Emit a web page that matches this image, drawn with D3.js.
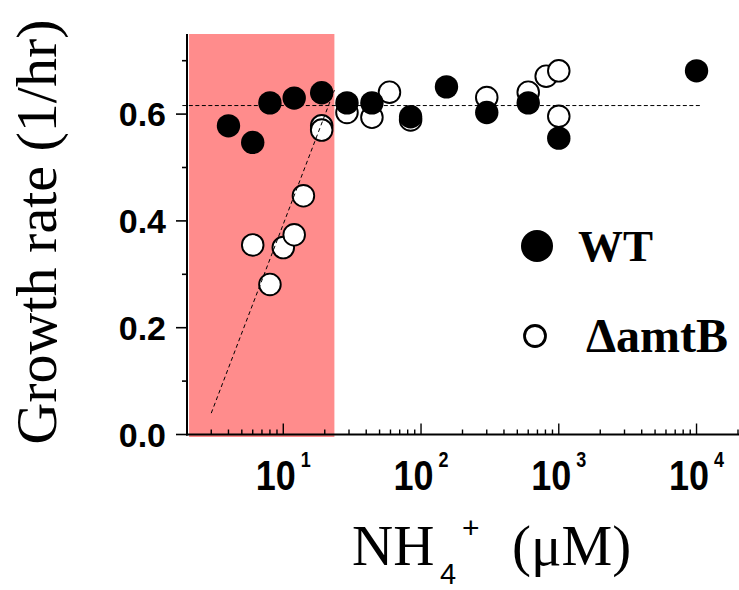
<!DOCTYPE html>
<html>
<head>
<meta charset="utf-8">
<script src="https://cdn.jsdelivr.net/npm/d3@7"></script>
<style>
  body { margin: 0; background: #fff; }
</style>
</head>
<body>
<div id="chart"></div>
<script>
// NH4+ concentration (uM) and growth rate (1/hr)
const wtConc = [4, 6, 8, 12, 19, 29, 44, 84, 153, 300, 600, 1000, 10000];
const wtRate = [0.578, 0.547, 0.621, 0.630, 0.640, 0.621, 0.621, 0.595, 0.651, 0.603, 0.621, 0.555, 0.681];
const amtConc = [6, 8, 10, 12, 14, 19, 19, 29, 44, 59, 84, 300, 600, 810, 1000, 1000];
const amtRate = [0.355, 0.281, 0.350, 0.374, 0.447, 0.578, 0.570, 0.603, 0.594, 0.641, 0.589, 0.631, 0.641, 0.671, 0.681, 0.596];

// guide lines (dashed) and the shaded low-ammonium window
const plateauLine = [[1.85, 0.616], [11000, 0.616]];
const slopeLine = [[3, 0.04], [23.5, 0.645]];
const lowRange = [2.07, 23.5];

const yMajor = [0, 0.2, 0.4, 0.6];
const yMinor = [0.1, 0.3, 0.5, 0.7];
const xExponents = [1, 2, 3, 4];

const width = 739, height = 590;
const serif = "'Liberation Serif', 'Times New Roman', serif";
const sans = "'Liberation Sans', Arial, sans-serif";

const x = d3.scaleLog().domain([2, 20000]).range([187, 738]);
const y = d3.scaleLinear().domain([0, 0.75]).range([434.5, 34]);

const svg = d3.select("#chart").append("svg")
  .attr("width", width)
  .attr("height", height);

// shaded region
svg.append("rect")
  .attr("x", x(lowRange[0]))
  .attr("y", y(0.75))
  .attr("width", x(lowRange[1]) - x(lowRange[0]))
  .attr("height", y(0) - y(0.75) + 2.5)
  .attr("fill", "#ff8c8c");

// points: mutant (open) below, WT (filled) on top
const amt = amtConc.map((c, i) => ({c, r: amtRate[i]}));
const wt = wtConc.map((c, i) => ({c, r: wtRate[i]}));

svg.append("g").selectAll("circle")
  .data(amt)
  .join("circle")
  .attr("cx", d => x(d.c))
  .attr("cy", d => y(d.r))
  .attr("r", 10.8)
  .attr("fill", "#fff")
  .attr("stroke", "#000")
  .attr("stroke-width", 1.9);

svg.append("g").selectAll("circle")
  .data(wt)
  .join("circle")
  .attr("cx", d => x(d.c))
  .attr("cy", d => y(d.r))
  .attr("r", 11.7)
  .attr("fill", "#000");

// dashed guides
const line = d3.line().x(d => x(d[0])).y(d => y(d[1]));
svg.append("path")
  .attr("d", line(plateauLine))
  .attr("fill", "none")
  .attr("stroke", "#000")
  .attr("stroke-width", 1)
  .attr("stroke-dasharray", "4,2.5");
svg.append("path")
  .attr("d", line(slopeLine))
  .attr("fill", "none")
  .attr("stroke", "#000")
  .attr("stroke-width", 1)
  .attr("stroke-dasharray", "4,3");

// y axis, ticks outward
const yAxis = svg.append("g");
yAxis.append("line")
  .attr("x1", 187).attr("x2", 187)
  .attr("y1", y(0.75)).attr("y2", y(0) + 1)
  .attr("stroke", "#000").attr("stroke-width", 2);
yAxis.selectAll(".major")
  .data(yMajor)
  .join("line")
  .attr("class", "major")
  .attr("x1", 176).attr("x2", 187)
  .attr("y1", d => y(d)).attr("y2", d => y(d))
  .attr("stroke", "#000").attr("stroke-width", 1.6);
yAxis.selectAll(".minor")
  .data(yMinor)
  .join("line")
  .attr("class", "minor")
  .attr("x1", 182).attr("x2", 187)
  .attr("y1", d => y(d)).attr("y2", d => y(d))
  .attr("stroke", "#000").attr("stroke-width", 1.6);
yAxis.selectAll("text")
  .data(yMajor)
  .join("text")
  .attr("x", 166)
  .attr("y", d => y(d) + 12)
  .attr("text-anchor", "end")
  .attr("font-family", sans)
  .attr("font-weight", "bold")
  .attr("font-size", 34)
  .text(d => d.toFixed(1));

// x axis, ticks inward
const xAxis = svg.append("g");
xAxis.append("line")
  .attr("x1", 186).attr("x2", 739)
  .attr("y1", y(0)).attr("y2", y(0))
  .attr("stroke", "#000").attr("stroke-width", 2);
const xMinor = x.ticks().filter(t => !xExponents.some(e => Math.abs(t - 10 ** e) < 1e-6));
xAxis.selectAll(".minor")
  .data(xMinor)
  .join("line")
  .attr("class", "minor")
  .attr("x1", d => x(d)).attr("x2", d => x(d))
  .attr("y1", y(0) - 5).attr("y2", y(0))
  .attr("stroke", "#000").attr("stroke-width", 1.4);
xAxis.selectAll(".major")
  .data(xExponents)
  .join("line")
  .attr("class", "major")
  .attr("x1", d => x(10 ** d)).attr("x2", d => x(10 ** d))
  .attr("y1", y(0) - 11).attr("y2", y(0))
  .attr("stroke", "#000").attr("stroke-width", 1.4);
// tick labels in the original are drawn a bit taller than wide
const xLab = xAxis.selectAll("text")
  .data(xExponents)
  .join("text")
  .attr("transform", d => `translate(${x(10 ** d)},490) scale(1,1.2)`)
  .attr("text-anchor", "middle")
  .attr("font-family", sans)
  .attr("font-weight", "bold")
  .attr("font-size", 36);
xLab.append("tspan").text("10");
xLab.append("tspan")
  .attr("dy", -19)
  .attr("dx", 5)
  .attr("font-size", 18)
  .text(d => d);

// axis titles
svg.append("text")
  .attr("transform", "translate(56,232) rotate(-90)")
  .attr("text-anchor", "middle")
  .attr("font-family", serif)
  .attr("font-size", 58)
  .text("Growth rate (1/hr)");

const xt = svg.append("text")
  .attr("font-family", serif)
  .attr("font-size", 57);
xt.append("tspan").attr("x", 352).attr("y", 565).text("NH");
xt.append("tspan")
  .attr("x", 440).attr("y", 584)
  .attr("font-size", 29)
  .attr("font-family", sans)
  .text("4");
xt.append("tspan")
  .attr("x", 462).attr("y", 538)
  .attr("font-size", 30)
  .attr("font-family", sans)
  .text("+");
xt.append("tspan").attr("x", 512).attr("y", 565).text("(\u03bcM)");

// legend
const legend = svg.append("g");
legend.append("circle")
  .attr("cx", 537).attr("cy", 246).attr("r", 16)
  .attr("fill", "#000");
legend.append("text")
  .attr("x", 578).attr("y", 261)
  .attr("font-family", serif)
  .attr("font-weight", "bold")
  .attr("font-size", 45)
  .text("WT");
legend.append("circle")
  .attr("cx", 535).attr("cy", 336).attr("r", 10.5)
  .attr("fill", "#fff")
  .attr("stroke", "#000")
  .attr("stroke-width", 2.8);
legend.append("text")
  .attr("x", 586).attr("y", 352)
  .attr("font-family", serif)
  .attr("font-weight", "bold")
  .attr("font-size", 48)
  .text("\u0394amtB");
</script>
</body>
</html>
